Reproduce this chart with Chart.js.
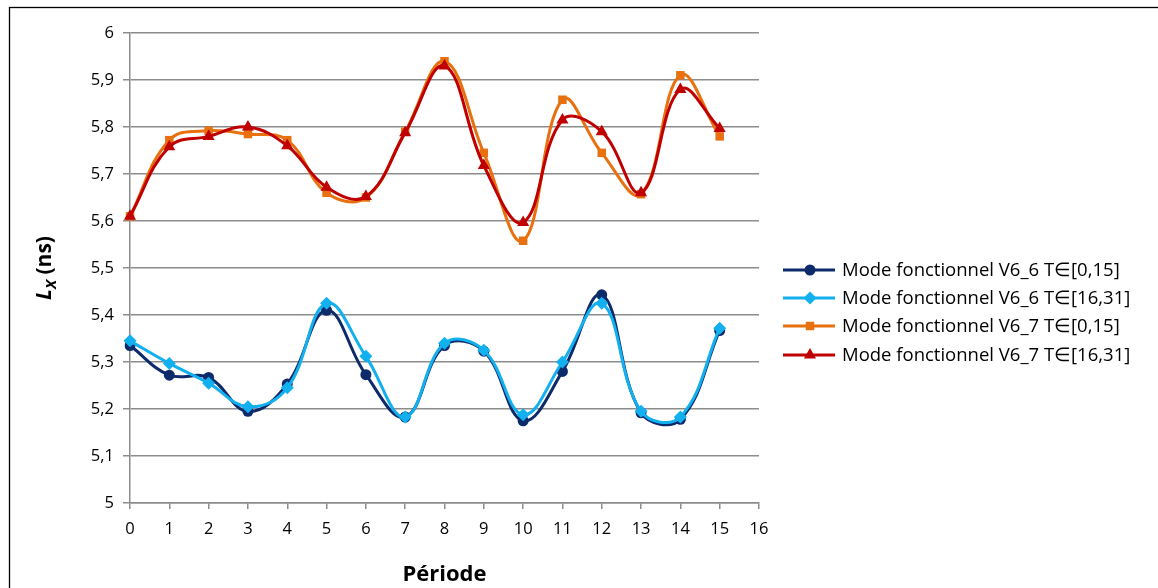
<!DOCTYPE html>
<html>
<head>
    <meta charset="utf-8">
    <script src="https://cdn.jsdelivr.net/npm/chart.js@4.4.0/dist/chart.umd.min.js"></script>
    <style>
        html, body { margin: 0; padding: 0; background: #fff; overflow: hidden; }
        #chart-container { position: relative; width: 1158px; height: 588px; }
    </style>
</head>
<body>
    <div id="chart-container">
        <canvas id="lxChart" width="1158" height="588"></canvas>
    </div>
    <script>
        // data
        const periodes = ['0','1','2','3','4','5','6','7','8','9','10','11','12','13','14','15','16'];
        const yTicks = [5, 5.1, 5.2, 5.3, 5.4, 5.5, 5.6, 5.7, 5.8, 5.9, 6];

        const seriesNames = [
            'Mode fonctionnel V6_6 T\u2208[0,15]',
            'Mode fonctionnel V6_6 T\u2208[16,31]',
            'Mode fonctionnel V6_7 T\u2208[0,15]',
            'Mode fonctionnel V6_7 T\u2208[16,31]'
        ];
        const v66a = [5.335, 5.272, 5.267, 5.195, 5.253, 5.410, 5.273, 5.183, 5.335, 5.323, 5.175, 5.280, 5.443, 5.192, 5.178, 5.367];
        const v66b = [5.345, 5.297, 5.255, 5.205, 5.245, 5.425, 5.312, 5.183, 5.340, 5.325, 5.188, 5.300, 5.425, 5.195, 5.183, 5.372];
        const v67a = [5.610, 5.772, 5.792, 5.785, 5.772, 5.660, 5.650, 5.790, 5.940, 5.745, 5.558, 5.858, 5.745, 5.657, 5.910, 5.780];
        const v67b = [5.610, 5.758, 5.780, 5.800, 5.760, 5.672, 5.652, 5.788, 5.930, 5.718, 5.597, 5.815, 5.790, 5.660, 5.880, 5.797];

        const colors = ['#0d2a6b', '#12b0ee', '#e8700e', '#c00000'];
        const markers = ['circle', 'rectRot', 'rect', 'triangle'];
        const markerSize = [5.5, 6.5, 6, 7];

        const FONT = '"Open Sans", sans-serif';

        function makeDataset(i, values) {
            return {
                label: seriesNames[i],
                data: values,
                borderColor: colors[i],
                backgroundColor: colors[i],
                borderWidth: 3,
                pointStyle: markers[i],
                pointRadius: markerSize[i],
                pointBorderWidth: 0,
                tension: 0.4,
                order: 4 - i
            };
        }

        const PLOT_LEFT = 130, PLOT_TOP = 33, PLOT_RIGHT = 759, PLOT_BOTTOM = 503;

        // frame, y-axis title and legend
        const decor = {
            id: 'decor',
            beforeDraw(chart) {
                const c = chart.ctx;
                c.save();
                c.fillStyle = '#fff';
                c.fillRect(0, 0, chart.width, chart.height);
                c.strokeStyle = '#000';
                c.lineWidth = 1.3;
                c.strokeRect(9.5, 7.5, 1160, 600);
                c.restore();
            },
            afterDraw(chart) {
                const c = chart.ctx;
                c.save();
                // y title: L_X (ns)
                c.translate(44, 268);
                c.rotate(-Math.PI / 2);
                c.fillStyle = '#000';
                c.textBaseline = 'alphabetic';
                const parts = [
                    { t: 'L', f: 'italic bold 21px ' + FONT, dy: 0 },
                    { t: 'X', f: 'italic bold 15px ' + FONT, dy: 5 },
                    { t: ' (ns)', f: 'bold 21px ' + FONT, dy: 0 }
                ];
                let total = 0;
                parts.forEach(p => { c.font = p.f; total += c.measureText(p.t).width; });
                let x = -total / 2;
                parts.forEach(p => {
                    c.font = p.f;
                    c.fillText(p.t, x, 7 + p.dy);
                    x += c.measureText(p.t).width;
                });
                c.restore();

                // legend
                c.save();
                const rowY = [270, 298, 326, 355];
                c.font = '18.5px ' + FONT;
                c.textBaseline = 'middle';
                chart.data.datasets.forEach((ds, i) => {
                    const y = rowY[i];
                    c.strokeStyle = ds.borderColor;
                    c.lineWidth = 3;
                    c.beginPath();
                    c.moveTo(783, y);
                    c.lineTo(835, y);
                    c.stroke();
                    c.fillStyle = ds.borderColor;
                    c.strokeStyle = ds.borderColor;
                    Chart.helpers.drawPoint(c, {
                        pointStyle: ds.pointStyle,
                        radius: ds.pointRadius,
                        borderWidth: 0,
                        rotation: 0
                    }, 810, y);
                    c.fillStyle = '#000';
                    c.fillText(ds.label, 842, y + 1);
                });
                c.restore();
            }
        };

        const ctx = document.getElementById('lxChart').getContext('2d');
        new Chart(ctx, {
            type: 'line',
            data: {
                labels: periodes,
                datasets: [
                    makeDataset(0, v66a),
                    makeDataset(1, v66b),
                    makeDataset(2, v67a),
                    makeDataset(3, v67b)
                ]
            },
            options: {
                responsive: false,
                animation: false,
                devicePixelRatio: 1,
                layout: { padding: { left: 0, top: PLOT_TOP, right: 1158 - PLOT_RIGHT, bottom: 0 } },
                plugins: {
                    legend: { display: false },
                    tooltip: { enabled: false }
                },
                scales: {
                    x: {
                        type: 'category',
                        offset: false,
                        grid: {
                            drawOnChartArea: false,
                            drawTicks: true,
                            tickLength: 6,
                            color: '#8c8c8c',
                            lineWidth: 1.5
                        },
                        border: { color: '#8c8c8c', width: 1.5 },
                        ticks: {
                            color: '#000',
                            font: { family: FONT, size: 16.5 },
                            padding: 10,
                            maxRotation: 0,
                            autoSkip: false
                        },
                        title: {
                            display: true,
                            text: 'Période',
                            color: '#000',
                            font: { family: FONT, size: 22, weight: 'bold' },
                            padding: { top: 12, bottom: 0 }
                        },
                        afterFit(scale) { scale.height = 588 - PLOT_BOTTOM; }
                    },
                    y: {
                        min: 5,
                        max: 6,
                        afterBuildTicks(scale) { scale.ticks = yTicks.map(v => ({ value: v })); },
                        grid: {
                            color: '#8c8c8c',
                            lineWidth: 1.5,
                            tickLength: 7
                        },
                        border: { color: '#8c8c8c', width: 1.5 },
                        ticks: {
                            color: '#000',
                            font: { family: FONT, size: 16.5 },
                            padding: 9,
                            callback: v => String(Math.round(v * 10) / 10).replace('.', ',')
                        },
                        afterFit(scale) { scale.width = PLOT_LEFT; }
                    }
                }
            },
            plugins: [decor]
        });
    </script>
</body>
</html>
